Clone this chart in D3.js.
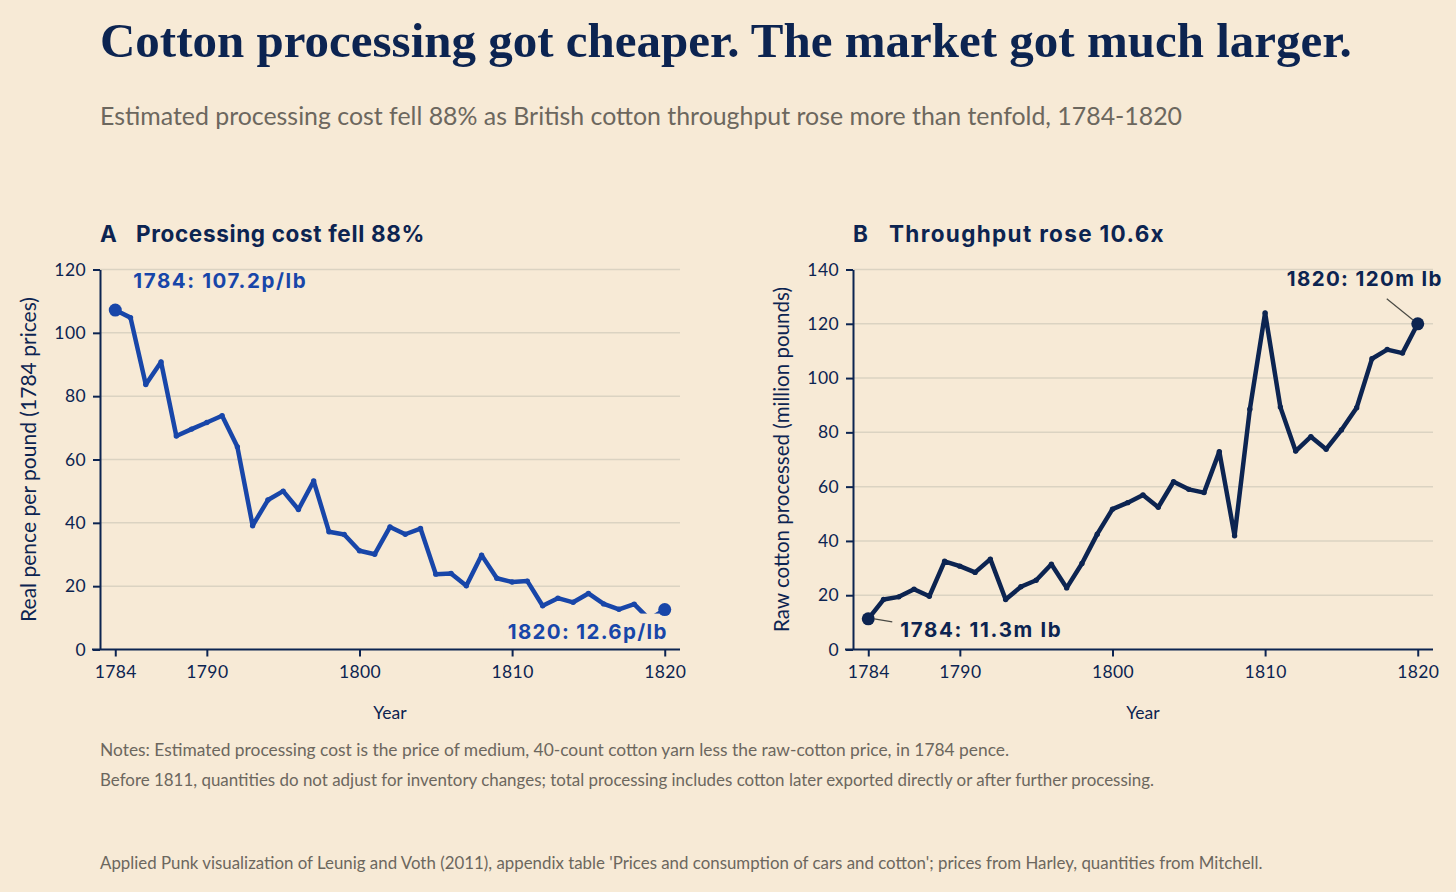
<!DOCTYPE html>
<html>
<head>
<meta charset="utf-8">
<script src="https://cdn.jsdelivr.net/npm/d3@7"></script>
<style>
  body { margin: 0; background: #f7ead6; }
  svg { display: block; }
</style>
</head>
<body>
<svg id="chart" width="1456" height="892"></svg>
<script>
  // ============================================================
  // Data
  // ============================================================

  const years = d3.range(1784, 1821);

  // real pence per pound, 1784 prices
  const costValues = [
    107.2, 104.8, 83.7, 90.8, 67.4, 69.6, 71.7, 73.8, 64.0, 39.1,
    47.2, 50.0, 44.2, 53.2, 37.2, 36.3, 31.2, 30.1, 38.7, 36.4,
    38.2, 23.8, 24.0, 20.1, 29.8, 22.5, 21.3, 21.6, 13.8, 16.2,
    14.9, 17.7, 14.4, 12.7, 14.3, 9.5, 12.6
  ];

  // raw cotton processed, million lb
  const throughputValues = [
    11.3, 18.4, 19.4, 22.2, 19.6, 32.5, 30.7, 28.4, 33.3, 18.4,
    23.1, 25.5, 31.4, 22.7, 31.7, 42.5, 51.7, 54.1, 56.9, 52.4,
    61.8, 59.0, 57.8, 72.9, 41.9, 88.5, 124.0, 89.3, 73.1, 78.4,
    73.8, 80.9, 89.1, 107.1, 110.5, 109.2, 120.0
  ];

  const xTicks = [1784, 1790, 1800, 1810, 1820];
  const costTicks = [0, 20, 40, 60, 80, 100, 120];
  const throughputTicks = [0, 20, 40, 60, 80, 100, 120, 140];

  const noteLines = [
    "Notes: Estimated processing cost is the price of medium, 40-count cotton yarn less the raw-cotton price, in 1784 pence.",
    "Before 1811, quantities do not adjust for inventory changes; total processing includes cotton later exported directly or after further processing."
  ];
  const sourceLine = "Applied Punk visualization of Leunig and Voth (2011), appendix table 'Prices and consumption of cars and cotton'; prices from Harley, quantities from Mitchell.";

  // ============================================================
  // Styling
  // ============================================================

  const BG = "#f7ead6";
  const NAVY = "#0c2451";
  const BLUE = "#1846a9";
  const GRID = "#dbd3c2";
  const GREY = "#6c675e";
  const SANS = "Lato, 'Noto Sans', sans-serif";
  const BOLD = "Inter, Lato, sans-serif";
  const SERIF = "'Liberation Serif', 'DejaVu Serif', serif";

  const svg = d3.select("#chart");
  svg.append("rect").attr("width", 1456).attr("height", 892).attr("fill", BG);

  // scale font size so a line of text spans the given width
  function fitText(sel, target) {
    const len = sel.node().getComputedTextLength();
    const size = parseFloat(sel.attr("font-size"));
    if (len > 0) sel.attr("font-size", size * target / len);
    return sel;
  }

  // widen/narrow a line via letter-spacing, keeping its size
  function fitSpacing(sel, target) {
    const len = sel.node().getComputedTextLength();
    const n = sel.text().length;
    if (len > 0 && n > 1) sel.attr("letter-spacing", (target - len) / n);
    return sel;
  }

  // title + subtitle
  const title = svg.append("text")
    .attr("x", 100).attr("y", 57)
    .attr("font-family", SERIF).attr("font-weight", 700)
    .attr("font-size", 44).attr("fill", NAVY)
    .text("Cotton processing got cheaper. The market got much larger.");
  fitText(title, 1252);

  const subtitle = svg.append("text")
    .attr("x", 100).attr("y", 125)
    .attr("font-family", SANS).attr("font-weight", 400)
    .attr("font-size", 22).attr("fill", GREY)
    .text("Estimated processing cost fell 88% as British cotton throughput rose more than tenfold, 1784-1820");
  fitText(subtitle, 1083);

  // ============================================================
  // Panels
  // ============================================================

  function drawPanel(opts) {
    const g = svg.append("g");
    const x = d3.scaleLinear().domain([1783, 1821]).range([opts.left, opts.left + 580]);
    const y = d3.scaleLinear().domain(opts.yDomain).range([649.5, 269.5]);
    const data = years.map((yr, i) => ({ year: yr, value: opts.values[i] }));

    // panel heading
    g.append("text")
      .attr("x", opts.left).attr("y", 242)
      .attr("font-family", BOLD).attr("font-weight", 700).attr("font-size", 22.5)
      .attr("fill", NAVY).text(opts.letter);
    fitSpacing(g.append("text")
      .attr("x", opts.left + 36).attr("y", 242)
      .attr("font-family", BOLD).attr("font-weight", 700).attr("font-size", 22.5)
      .attr("fill", NAVY).text(opts.heading), opts.headingWidth);

    // grid
    g.append("g").selectAll("line")
      .data(opts.yTicks.filter(d => d > 0))
      .join("line")
      .attr("x1", opts.left).attr("x2", opts.left + 580)
      .attr("y1", d => y(d)).attr("y2", d => y(d))
      .attr("stroke", GRID).attr("stroke-width", 1.5);

    // axes
    const xAxis = g.append("g")
      .attr("transform", `translate(0,${y(0)})`)
      .call(d3.axisBottom(x).tickValues(xTicks).tickFormat(d3.format("d")).tickSize(7).tickSizeOuter(0).tickPadding(9));
    xAxis.select(".domain")
      .attr("d", `M${opts.left - 8},0H${opts.left + 580}`);

    const yAxis = g.append("g")
      .attr("transform", `translate(${opts.left},0)`)
      .call(d3.axisLeft(y).tickValues(opts.yTicks).tickSize(7).tickSizeOuter(0).tickPadding(7));

    [xAxis, yAxis].forEach(ax => {
      ax.select(".domain").attr("stroke", NAVY).attr("stroke-width", 2);
      ax.selectAll(".tick line").attr("stroke", NAVY).attr("stroke-width", 2);
      ax.selectAll(".tick text")
        .attr("font-family", SANS).attr("font-weight", 400)
        .attr("font-size", 17.5).attr("letter-spacing", 0.4).attr("fill", NAVY);
    });

    // axis titles
    g.append("text")
      .attr("x", opts.left + 290).attr("y", 719)
      .attr("text-anchor", "middle")
      .attr("font-family", SANS).attr("font-weight", 400)
      .attr("font-size", 17.5).attr("fill", NAVY)
      .text("Year");
    fitText(g.append("text")
      .attr("transform", `translate(${opts.left - 64},${y(opts.yDomain[1] / 2)}) rotate(-90)`)
      .attr("text-anchor", "middle")
      .attr("font-family", SANS).attr("font-weight", 400)
      .attr("font-size", 17).attr("fill", NAVY)
      .text(opts.yLabel), opts.yLabelWidth);

    // series
    const line = d3.line().x(d => x(d.year)).y(d => y(d.value));
    g.append("path")
      .datum(data)
      .attr("d", line)
      .attr("fill", "none")
      .attr("stroke", opts.color)
      .attr("stroke-width", 4.5)
      .attr("stroke-linejoin", "round")
      .attr("stroke-linecap", "round");
    g.append("g").selectAll("circle")
      .data(data)
      .join("circle")
      .attr("cx", d => x(d.year)).attr("cy", d => y(d.value))
      .attr("r", 2.7).attr("fill", opts.color);

    const first = data[0], last = data[data.length - 1];
    g.append("g").attr("class", "ends").selectAll("circle")
      .data([first, last])
      .join("circle")
      .attr("cx", d => x(d.year)).attr("cy", d => y(d.value))
      .attr("r", 6.5).attr("fill", opts.color);

    opts.annotate(g, x, y, first, last);
  }

  function label(g, px, py, anchor, txt, color, width) {
    const t = g.append("text")
      .attr("x", px).attr("y", py)
      .attr("text-anchor", anchor)
      .attr("font-family", BOLD).attr("font-weight", 700).attr("font-size", 20.5)
      .attr("fill", color).text(txt);
    return fitSpacing(t, width);
  }

  function leader(g, x1, y1, x2, y2) {
    g.append("line")
      .attr("x1", x1).attr("y1", y1).attr("x2", x2).attr("y2", y2)
      .attr("stroke", "#4a4a44").attr("stroke-width", 1.2);
  }

  drawPanel({
    left: 100,
    letter: "A",
    heading: "Processing cost fell 88%",
    headingWidth: 289,
    values: costValues,
    yDomain: [0, 120],
    yTicks: costTicks,
    yLabel: "Real pence per pound (1784 prices)",
    yLabelWidth: 325,
    color: BLUE,
    annotate: (g, x, y, first, last) => {
      label(g, x(first.year) + 18, y(first.value) - 22, "start",
        `${first.year}: ${first.value.toFixed(1)}p/lb`, BLUE, 174);
      const t = label(g, x(last.year) + 3, y(last.value) + 29, "end",
        `${last.year}: ${last.value.toFixed(1)}p/lb`, BLUE, 160);
      // knock-out box behind the end label; sits over the line, under the end dot
      const bb = t.node().getBBox();
      g.insert("rect", ".ends")
        .attr("x", bb.x - 4).attr("y", bb.y - 5)
        .attr("width", bb.width + 8).attr("height", bb.height + 7)
        .attr("fill", BG);
    }
  });

  drawPanel({
    left: 853,
    letter: "B",
    heading: "Throughput rose 10.6x",
    headingWidth: 276,
    values: throughputValues,
    yDomain: [0, 140],
    yTicks: throughputTicks,
    yLabel: "Raw cotton processed (million pounds)",
    yLabelWidth: 345,
    color: NAVY,
    annotate: (g, x, y, first, last) => {
      const fx = x(first.year), fy = y(first.value);
      leader(g, fx + 6, fy, fx + 24, fy + 3);
      label(g, fx + 32, fy + 18, "start", `${first.year}: ${first.value.toFixed(1)}m lb`, NAVY, 162);
      const lx = x(last.year), ly = y(last.value);
      leader(g, lx - 31, ly - 25, lx - 5, ly - 4);
      label(g, lx + 25, ly - 38, "end", `${last.year}: ${d3.format("d")(last.value)}m lb`, NAVY, 156);
    }
  });

  // ============================================================
  // Notes
  // ============================================================

  const notes = svg.append("g").selectAll("text")
    .data(noteLines)
    .join("text")
    .attr("x", 100).attr("y", (d, i) => 756 + i * 30)
    .attr("font-family", SANS).attr("font-size", 14).attr("fill", GREY)
    .text(d => d);
  fitText(d3.select(notes.nodes()[0]), 910);
  fitText(d3.select(notes.nodes()[1]), 1055);

  fitText(svg.append("text")
    .attr("x", 100).attr("y", 869)
    .attr("font-family", SANS).attr("font-size", 14).attr("fill", GREY)
    .text(sourceLine), 1163);
</script>
</body>
</html>
